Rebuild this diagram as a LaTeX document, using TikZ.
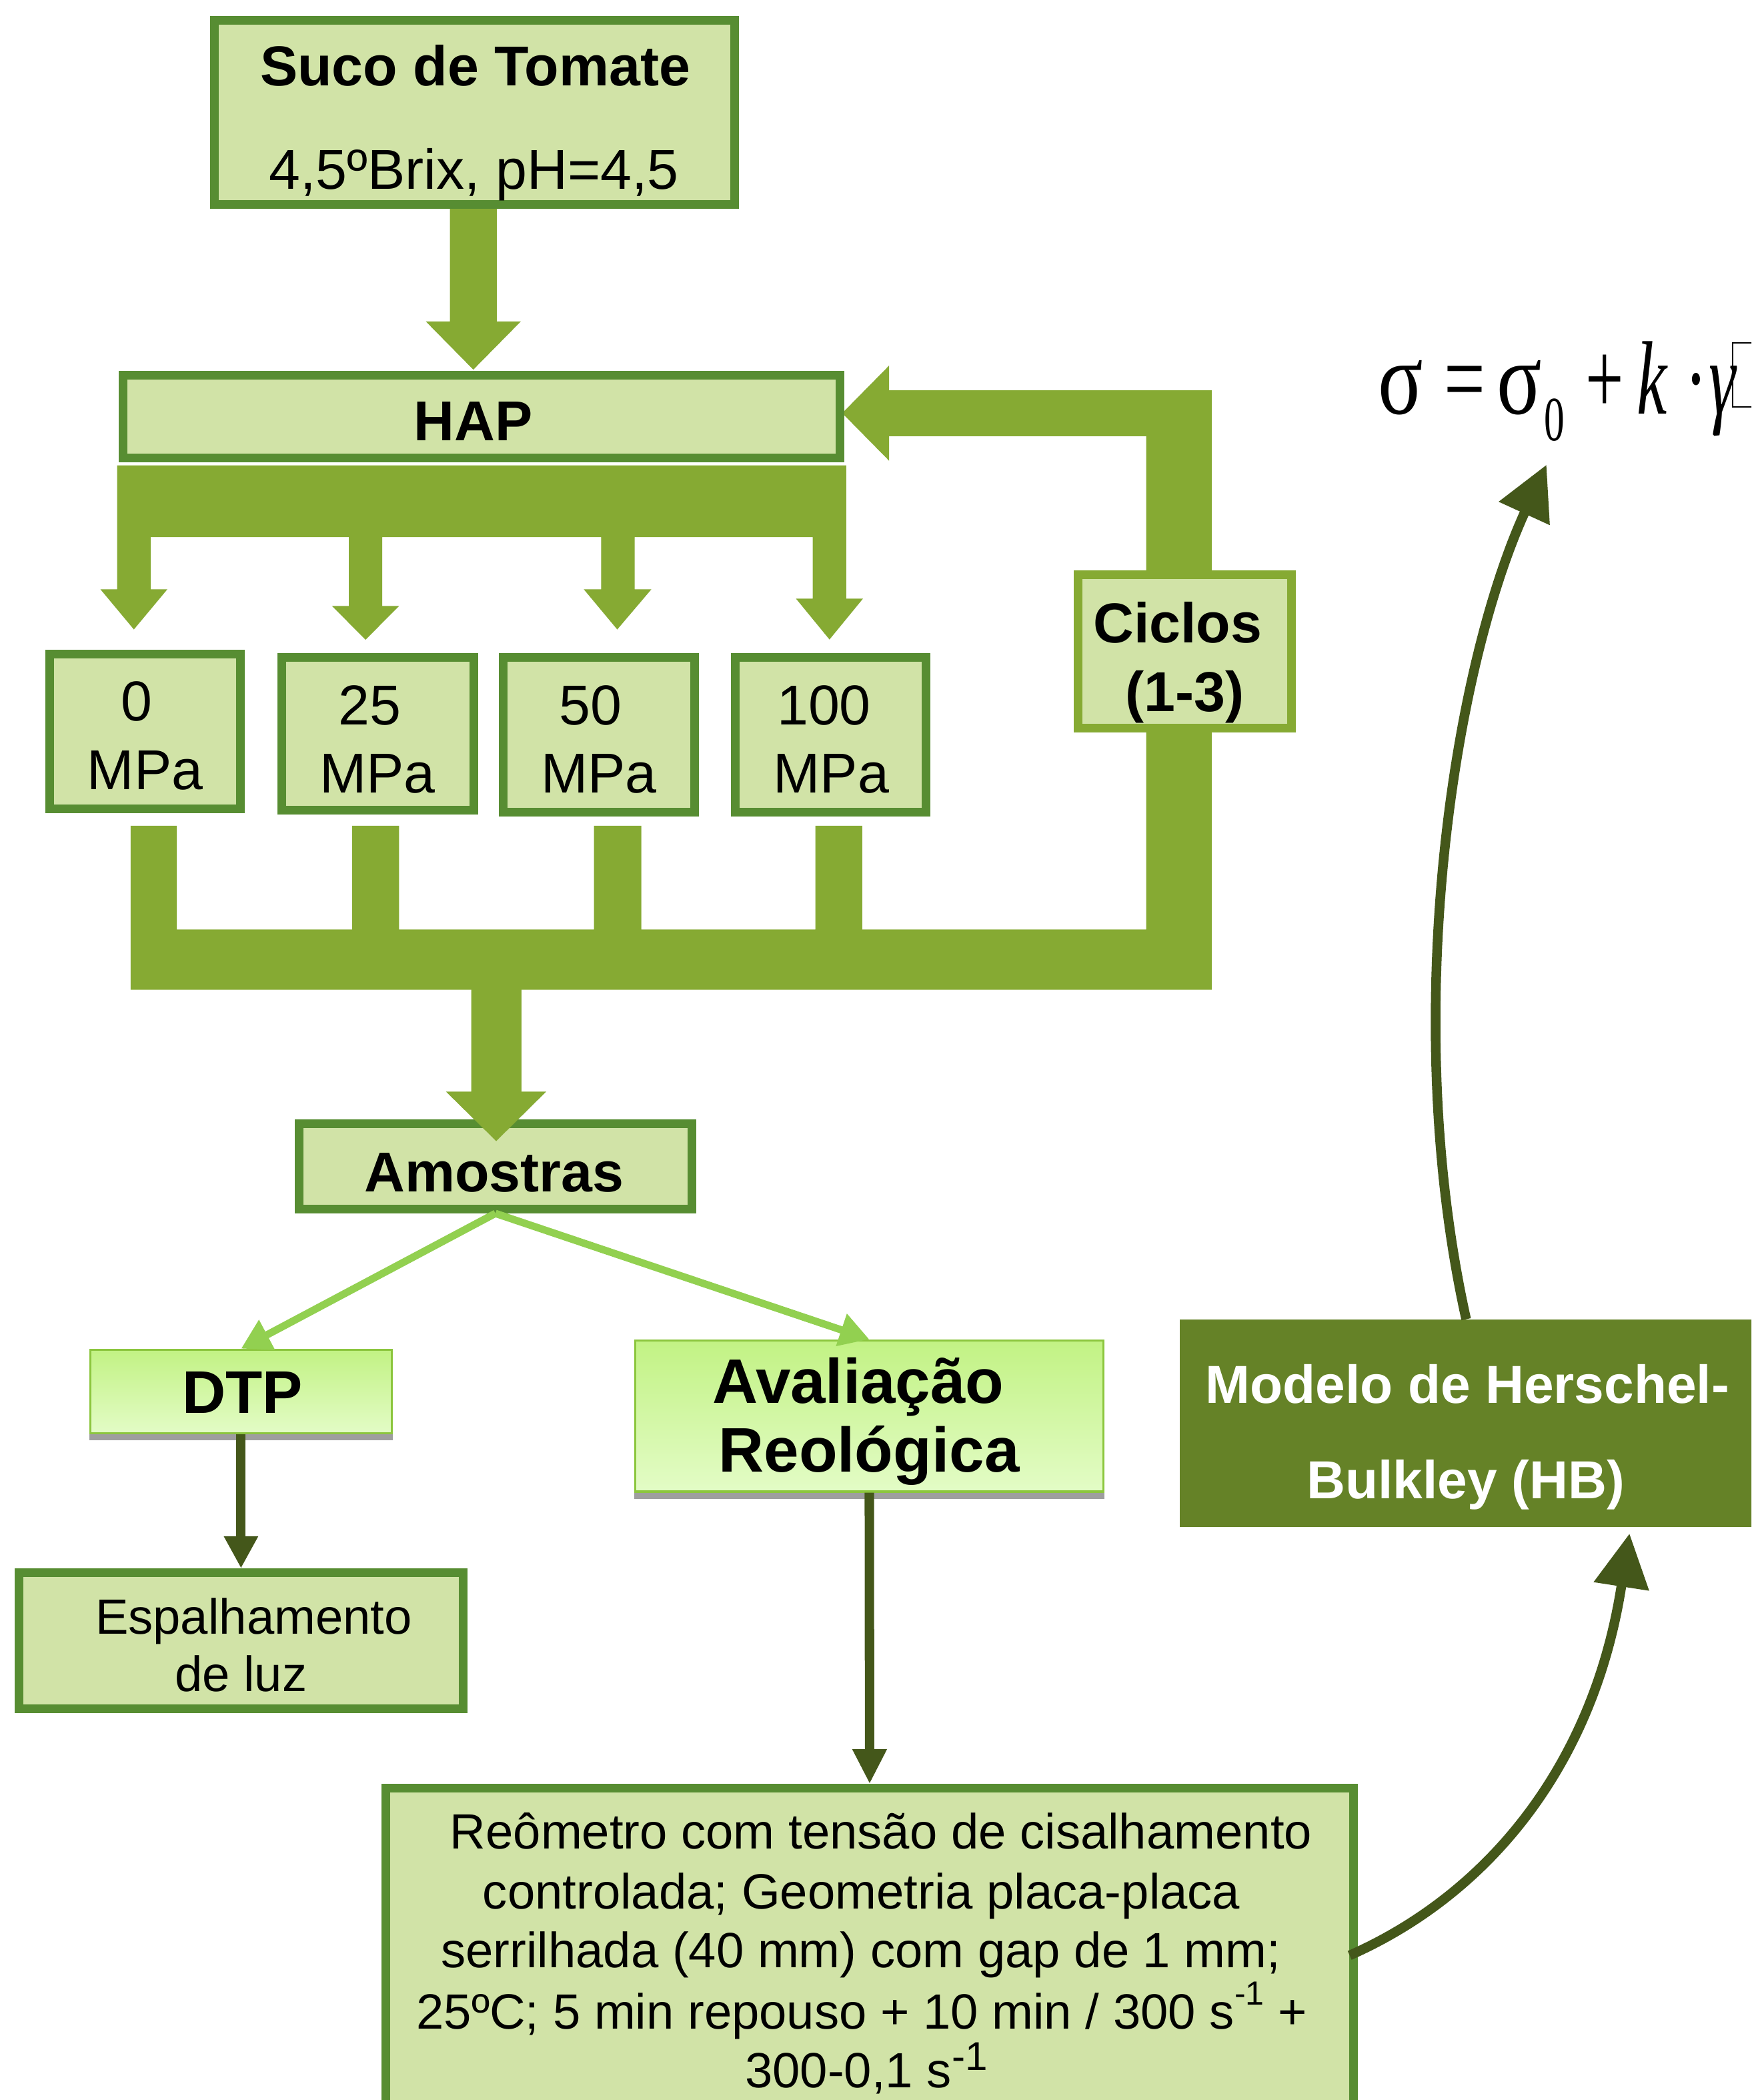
\documentclass[tikz,border=0pt]{standalone}
\usepackage{fontspec}
\setmainfont{Liberation Sans}
\newfontfamily\eqfont{Liberation Serif}
\usepackage{graphicx}
\usetikzlibrary{arrows.meta}
\definecolor{boxfill}{HTML}{D1E3A7}
\definecolor{boxline}{HTML}{578D32}
\definecolor{arrowol}{HTML}{86AA33}
\definecolor{lgreen}{HTML}{92D050}
\definecolor{dline}{HTML}{44571A}
\definecolor{hbfill}{HTML}{658227}
\definecolor{gtop}{HTML}{C2F284}
\definecolor{gbot}{HTML}{E3FCC6}
\definecolor{gline}{HTML}{8CC63E}
\definecolor{shadowgray}{HTML}{9E9E9E}
\newcommand\fA{\fontsize{21pt}{25pt}\selectfont}
\newcommand\fB{\fontsize{18.5pt}{22pt}\selectfont}
\newcommand\fC{\fontsize{20pt}{24pt}\selectfont}
\newcommand\supA[1]{\raisebox{9pt}{\fontsize{12.5pt}{12.5pt}\selectfont #1}}
\newcommand\supB[1]{\raisebox{6.5pt}{\fontsize{15pt}{15pt}\selectfont #1}}
\tikzset{
  gbox/.style={draw=boxline, line width=3.25pt, fill=boxfill, inner sep=0pt},
  gradbox/.style={draw=gline, line width=0.8pt, top color=gtop, bottom color=gbot, inner sep=0pt},
  txt/.style={inner sep=0pt, anchor=base},
  eqtxt/.style={inner sep=0pt, anchor=base west, font=\eqfont\fontsize{39pt}{40pt}\selectfont},
  lgarrow/.style={draw=lgreen, line width=2.75pt, -{Triangle[length=11pt,width=12pt]}},
  darrow/.style={draw=dline, line width=3.5pt, -{Triangle[length=12pt,width=12pt]}},
  curvearrow/.style={draw=dline, line width=3.6pt, -{Triangle[length=20pt,width=20pt]}},
}
\begin{document}
\begin{tikzpicture}[x=0.5pt,y=-0.5pt]
\clip (0,0) rectangle (1308,1568);
\fill[white] (0,0) rectangle (1308,1568);

% block arrows
\fill[arrowol] (336,156) -- (371,156) -- (371,240) -- (389,240) -- (353.5,276) -- (318,240) -- (336,240) -- cycle;
\fill[arrowol] (87.5,347.5) -- (632,347.5) -- (632,447) -- (644.5,447) -- (619.5,477.5) -- (594.5,447) -- (607,447) -- (607,401) -- (474,401) -- (474,440) -- (486.5,440) -- (461,470) -- (436,440) -- (449,440) -- (449,401) -- (285.5,401) -- (285.5,452.5) -- (298,452.5) -- (273,477.7) -- (248,452.5) -- (260.5,452.5) -- (260.5,401) -- (112.5,401) -- (112.5,440) -- (125,440) -- (100,470) -- (75,440) -- (87.5,440) -- cycle;
\fill[arrowol] (97.6,616.6) -- (132,616.6) -- (132,694) -- (263,694) -- (263,616.6) -- (298,616.6) -- (298,694) -- (443.6,694) -- (443.6,616.6) -- (479,616.6) -- (479,694) -- (609,694) -- (609,616.6) -- (644,616.6) -- (644,694) -- (856,694) -- (856,325.7) -- (664,325.7) -- (664,344) -- (629,308.5) -- (664,273) -- (664,291.4) -- (905,291.4) -- (905,739) -- (97.6,739) -- cycle;

% boxes
\node[gbox, minimum width=194.25pt, minimum height=68.75pt] (suco) at (354.5,84) {};
\node[gbox, minimum width=267.75pt, minimum height=30.75pt] (hap) at (359.5,311) {};
\node[gbox, minimum width=71.25pt, minimum height=57.75pt] (p0) at (108.5,546) {};
\node[gbox, minimum width=71.75pt, minimum height=57pt] (p25) at (282,547.7) {};
\node[gbox, minimum width=71.5pt, minimum height=57.85pt] (p50) at (447.3,548.5) {};
\node[gbox, minimum width=71.25pt, minimum height=57.85pt] (p100) at (620.5,548.5) {};
\node[gbox, draw=arrowol, minimum width=79.75pt, minimum height=57.25pt] (ciclos) at (885,486.5) {};
\node[gbox, minimum width=146.75pt, minimum height=31.75pt] (amostras) at (370,871) {};
\node[gbox, minimum width=165.75pt, minimum height=50.75pt] (esp) at (180,1225) {};
\node[gbox, minimum width=361.25pt, minimum height=130.75pt] (reo) at (649.5,1466) {};
\node[fill=hbfill, inner sep=0pt, outer sep=0pt, minimum width=214pt, minimum height=77.5pt] (hb) at (1095,1062.5) {};

% shadows + gradient boxes
\fill[shadowgray] (66.6,1060) rectangle (293.4,1075.5);
\fill[shadowgray] (473.7,1100) rectangle (824.8,1119);
\node[gradbox, minimum width=112.6pt, minimum height=31.2pt] (dtp) at (180,1039) {};
\node[gradbox, minimum width=174.75pt, minimum height=56.45pt] (aval) at (649.25,1057.25) {};

% arrow into Amostras
\fill[arrowol] (352,738) -- (389.5,738) -- (389.5,815) -- (408,815) -- (370.6,852) -- (333,815) -- (352,815) -- cycle;

% connectors
\draw[lgarrow] (amostras.south) -- (dtp.north);
\draw[lgarrow] (amostras.south) -- (aval.north);
\draw[darrow] (dtp.south) -- (esp.north);
\draw[darrow, -{Triangle[length=13pt,width=12pt]}] (aval.south) -- (reo.north);
\coordinate (reoout) at (1008,1460);
\coordinate (hbin) at (1217,1145);
\coordinate (eqin) at (1155,347);
\draw[curvearrow] (reoout) .. controls (1110,1415) and (1190,1320) .. (hbin);
\draw[curvearrow] (hb.north) .. controls (1045,760) and (1085,500) .. (eqin);

% texts
\node[txt, font=\bfseries\fA] (suco1) at (355,64) {Suco de Tomate};
\node[txt, font=\fA] (suco2) at (354,141) {4,5ºBrix, pH=4,5};
\node[txt, font=\bfseries\fA] (hapt) at (353.5,329) {HAP};
\node[txt, font=\fA] (p0a) at (102,538) {0};
\node[txt, font=\fA] (p0b) at (108.4,589.5) {MPa};
\node[txt, font=\fA] (p25a) at (276,541) {25};
\node[txt, font=\fA] (p25b) at (282,592) {MPa};
\node[txt, font=\fA] (p50a) at (441,541) {50};
\node[txt, font=\fA] (p50b) at (447.3,592) {MPa};
\node[txt, font=\fA] (p100a) at (615.4,541) {100};
\node[txt, font=\fA] (p100b) at (620.8,592) {MPa};
\node[txt, font=\bfseries\fA] (cic1) at (879.5,480) {Ciclos};
\node[txt, font=\bfseries\fA] (cic2) at (885,531) {(1-3)};
\node[txt, font=\bfseries\fA] (amt) at (369,889.7) {Amostras};
\node[txt, font=\bfseries\fontsize{22.5pt}{26pt}\selectfont] (dtpt) at (181,1055) {DTP};
\node[txt, font=\bfseries\fontsize{23.5pt}{27pt}\selectfont] (av1) at (641,1047.6) {Avaliação};
\node[txt, font=\bfseries\fontsize{23.5pt}{27pt}\selectfont] (av2) at (649,1099) {Reológica};
\node[txt, font=\fB] (es1) at (189.5,1220) {Espalhamento};
\node[txt, font=\fB] (es2) at (180,1263) {de luz};
\node[txt, font=\fB] (r1) at (658,1380.5) {Reômetro com tensão de cisalhamento};
\node[txt, font=\fB] (r2) at (643.4,1425.4) {controlada; Geometria placa-placa};
\node[txt, font=\fB] (r3) at (643,1469.3) {serrilhada (40 mm) com gap de 1 mm;};
\node[txt, font=\fB] (r4) at (643.6,1515) {25ºC; 5 min repouso + 10 min / 300 s\supA{-1} +};
\node[txt, font=\fB] (r5) at (647,1559) {300-0,1 s\supB{-1}};
\node[txt, font=\bfseries\fC, text=white] (hb1) at (1096,1047.6) {Modelo de Herschel-};
\node[txt, font=\bfseries\fC, text=white] (hb2) at (1094.7,1119) {Bulkley (HB)};

% formula
\node[eqtxt] (e1) at (1029,309) {\scalebox{0.8}[1]{σ}};
\node[eqtxt] (e2) at (1078,309) {\scalebox{0.7}[1]{=}};
\node[eqtxt] (e3) at (1117.5,309) {\scalebox{0.8}[1]{σ}};
\node[eqtxt, font=\eqfont\fontsize{23.5pt}{24pt}\selectfont] (e4) at (1153,329) {\scalebox{0.65}[1]{0}};
\node[eqtxt] (e5) at (1184,309) {\scalebox{0.65}[1]{+}};
\node[eqtxt] (e6) at (1222,309) {\scalebox{0.65}[1]{\itshape k}};
\node[eqtxt] (e7) at (1258,309) {\scalebox{0.65}[1]{·}};
\node[eqtxt] (e8) at (1276,309) {\scalebox{0.65}[1]{\itshape γ}};
\draw[line width=0.5pt] (1294,256) rectangle (1330,304);
\end{tikzpicture}
\end{document}
